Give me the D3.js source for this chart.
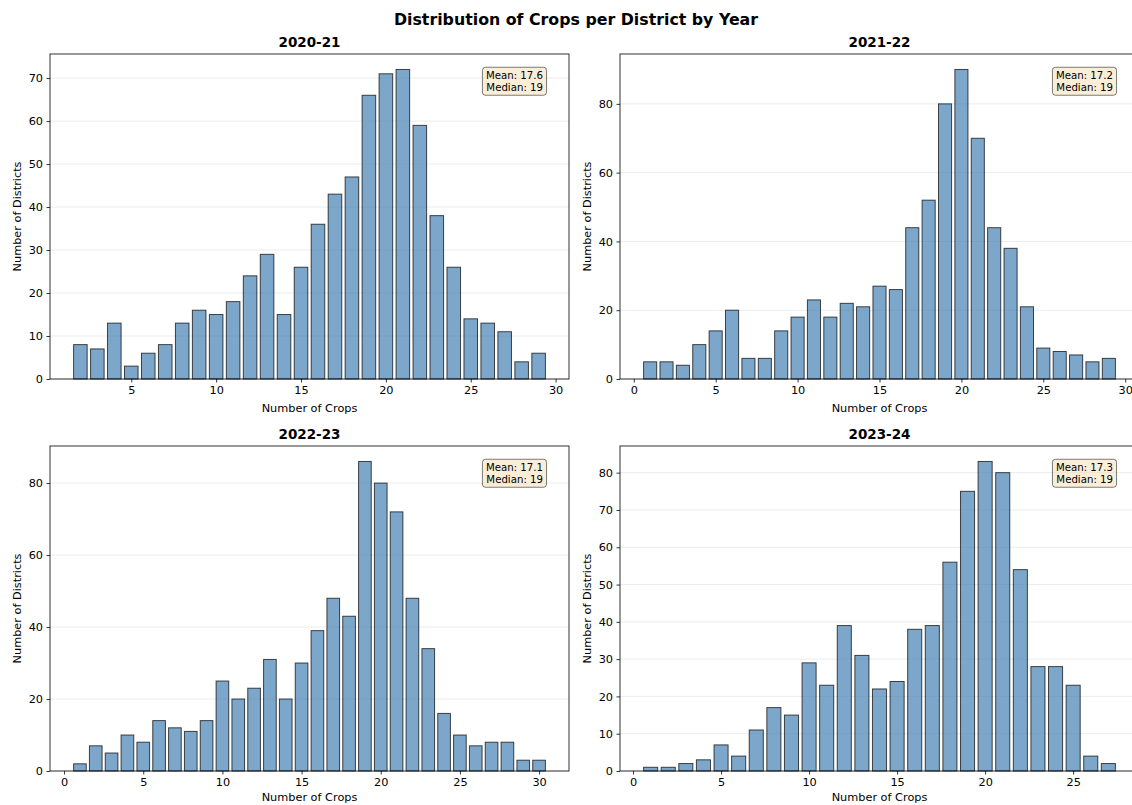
<!DOCTYPE html>
<html>
<head>
<meta charset="utf-8">
<script src="https://cdn.jsdelivr.net/npm/d3@7"></script>
<style>
  html, body { margin: 0; padding: 0; background: #fff; }
  svg { display: block; font-family: "DejaVu Sans", sans-serif; }
</style>
</head>
<body>
<svg id="chart" width="1132" height="805"></svg>
<script>
// Districts per crop count, one histogram per agricultural year
const years = ["2020-21", "2021-22", "2022-23", "2023-24"];

const crops2020 = [2, 3, 4, 5, 6, 7, 8, 9, 10, 11, 12, 13, 14, 15, 16, 17, 18, 19, 20, 21, 22, 23, 24, 25, 26, 27, 28, 29];
const districts2020 = [8, 7, 13, 3, 6, 8, 13, 16, 15, 18, 24, 29, 15, 26, 36, 43, 47, 66, 71, 72, 59, 38, 26, 14, 13, 11, 4, 6];

const crops2021 = [1, 2, 3, 4, 5, 6, 7, 8, 9, 10, 11, 12, 13, 14, 15, 16, 17, 18, 19, 20, 21, 22, 23, 24, 25, 26, 27, 28, 29];
const districts2021 = [5, 5, 4, 10, 14, 20, 6, 6, 14, 18, 23, 18, 22, 21, 27, 26, 44, 52, 80, 90, 70, 44, 38, 21, 9, 8, 7, 5, 6];

const crops2022 = [1, 2, 3, 4, 5, 6, 7, 8, 9, 10, 11, 12, 13, 14, 15, 16, 17, 18, 19, 20, 21, 22, 23, 24, 25, 26, 27, 28, 29, 30];
const districts2022 = [2, 7, 5, 10, 8, 14, 12, 11, 14, 25, 20, 23, 31, 20, 30, 39, 48, 43, 86, 80, 72, 48, 34, 16, 10, 7, 8, 8, 3, 3];

const crops2023 = [1, 2, 3, 4, 5, 6, 7, 8, 9, 10, 11, 12, 13, 14, 15, 16, 17, 18, 19, 20, 21, 22, 23, 24, 25, 26, 27];
const districts2023 = [1, 1, 2, 3, 7, 4, 11, 17, 15, 29, 23, 39, 31, 22, 24, 38, 39, 56, 75, 83, 80, 54, 28, 28, 23, 4, 2];

const meanLabels = ["17.6", "17.2", "17.1", "17.3"];
const medianLabels = ["19", "19", "19", "19"];

// y tick spacing per panel, x ticks every 5 crops
const yTickSteps = [10, 20, 20, 10];
const xTickStep = 5;

const cropSets = [crops2020, crops2021, crops2022, crops2023];
const countSets = [districts2020, districts2021, districts2022, districts2023];

const svg = d3.select("#chart");
const W = 519, H = 325;
const origins = [[50, 54], [620, 54], [50, 446], [620, 446]];
const barWidth = 0.8;

svg.append("text")
  .attr("x", 576).attr("y", 25)
  .attr("text-anchor", "middle")
  .attr("font-size", 15.8).attr("font-weight", "bold")
  .text("Distribution of Crops per District by Year");

years.forEach((year, i) => {
  const crops = cropSets[i], counts = countSets[i];
  const data = crops.map((c, k) => ({ c, n: counts[k] }));
  const [ox, oy] = origins[i];
  const g = svg.append("g").attr("transform", `translate(${ox},${oy})`);

  const lo = d3.min(crops) - barWidth / 2, hi = d3.max(crops) + barWidth / 2;
  const pad = (hi - lo) * 0.05;
  const x = d3.scaleLinear().domain([lo - pad, hi + pad]).range([0, W]);
  const yMax = d3.max(counts) * 1.05;
  const y = d3.scaleLinear().domain([0, yMax]).range([H, 0]);

  const yTicks = d3.range(0, yMax + 1e-9, yTickSteps[i]);
  const xTicks = d3.range(Math.ceil((lo - pad) / xTickStep) * xTickStep, hi + pad, xTickStep);

  // horizontal grid behind the bars
  g.append("g").selectAll("line").data(yTicks).join("line")
    .attr("x1", 0).attr("x2", W)
    .attr("y1", d => y(d)).attr("y2", d => y(d))
    .attr("stroke", "#b0b0b0").attr("stroke-opacity", 0.3).attr("stroke-width", 0.8);

  g.append("g").selectAll("rect").data(data).join("rect")
    .attr("x", d => x(d.c - barWidth / 2))
    .attr("width", d => x(d.c + barWidth / 2) - x(d.c - barWidth / 2))
    .attr("y", d => y(d.n))
    .attr("height", d => y(0) - y(d.n))
    .attr("fill", "#4682b4").attr("fill-opacity", 0.7)
    .attr("stroke", "#000").attr("stroke-opacity", 0.7).attr("stroke-width", 1);

  // axes
  const xAxis = g.append("g").attr("transform", `translate(0,${H})`)
    .call(d3.axisBottom(x).tickValues(xTicks).tickFormat(d3.format("d")).tickSizeOuter(0).tickSize(3.5).tickPadding(3.5));
  const yAxis = g.append("g")
    .call(d3.axisLeft(y).tickValues(yTicks).tickFormat(d3.format("d")).tickSizeOuter(0).tickSize(3.5).tickPadding(3.5));
  [xAxis, yAxis].forEach(a => {
    a.select(".domain").remove();
    a.selectAll("text").attr("font-size", 11.3).attr("fill", "#000").attr("font-family", "DejaVu Sans, sans-serif");
    a.selectAll("line").attr("stroke", "#000").attr("stroke-width", 0.8);
  });

  // frame
  g.append("rect").attr("width", W).attr("height", H)
    .attr("fill", "none").attr("stroke", "#000").attr("stroke-width", 0.8);

  g.append("text")
    .attr("x", W / 2).attr("y", -7)
    .attr("text-anchor", "middle")
    .attr("font-size", 13.5).attr("font-weight", "bold")
    .text(year);

  // bottom row sits against the page edge, so its axis title is tucked up slightly
  g.append("text")
    .attr("x", W / 2).attr("y", H + (i < 2 ? 33 : 30))
    .attr("text-anchor", "middle").attr("font-size", 11.3)
    .text("Number of Crops");

  g.append("text")
    .attr("transform", `translate(${-29},${H / 2}) rotate(-90)`)
    .attr("text-anchor", "middle").attr("font-size", 11.3)
    .text("Number of Districts");

  // statistics box in the upper right corner
  const bx = W * 0.95, by = H * 0.05;
  const box = g.append("g");
  const txt = box.append("text")
    .attr("font-size", 10.2).attr("text-anchor", "end");
  txt.append("tspan").attr("x", bx).attr("y", by + 9).text(`Mean: ${meanLabels[i]}`);
  txt.append("tspan").attr("x", bx).attr("y", by + 21).text(`Median: ${medianLabels[i]}`);
  const bb = txt.node().getBBox();
  box.insert("rect", "text")
    .attr("x", bb.x - 3.5).attr("y", bb.y - 3)
    .attr("width", bb.width + 7).attr("height", bb.height + 5)
    .attr("rx", 3).attr("ry", 3)
    .attr("fill", "#f5deb3").attr("fill-opacity", 0.5)
    .attr("stroke", "#000").attr("stroke-opacity", 0.5).attr("stroke-width", 1);
});
</script>
</body>
</html>
